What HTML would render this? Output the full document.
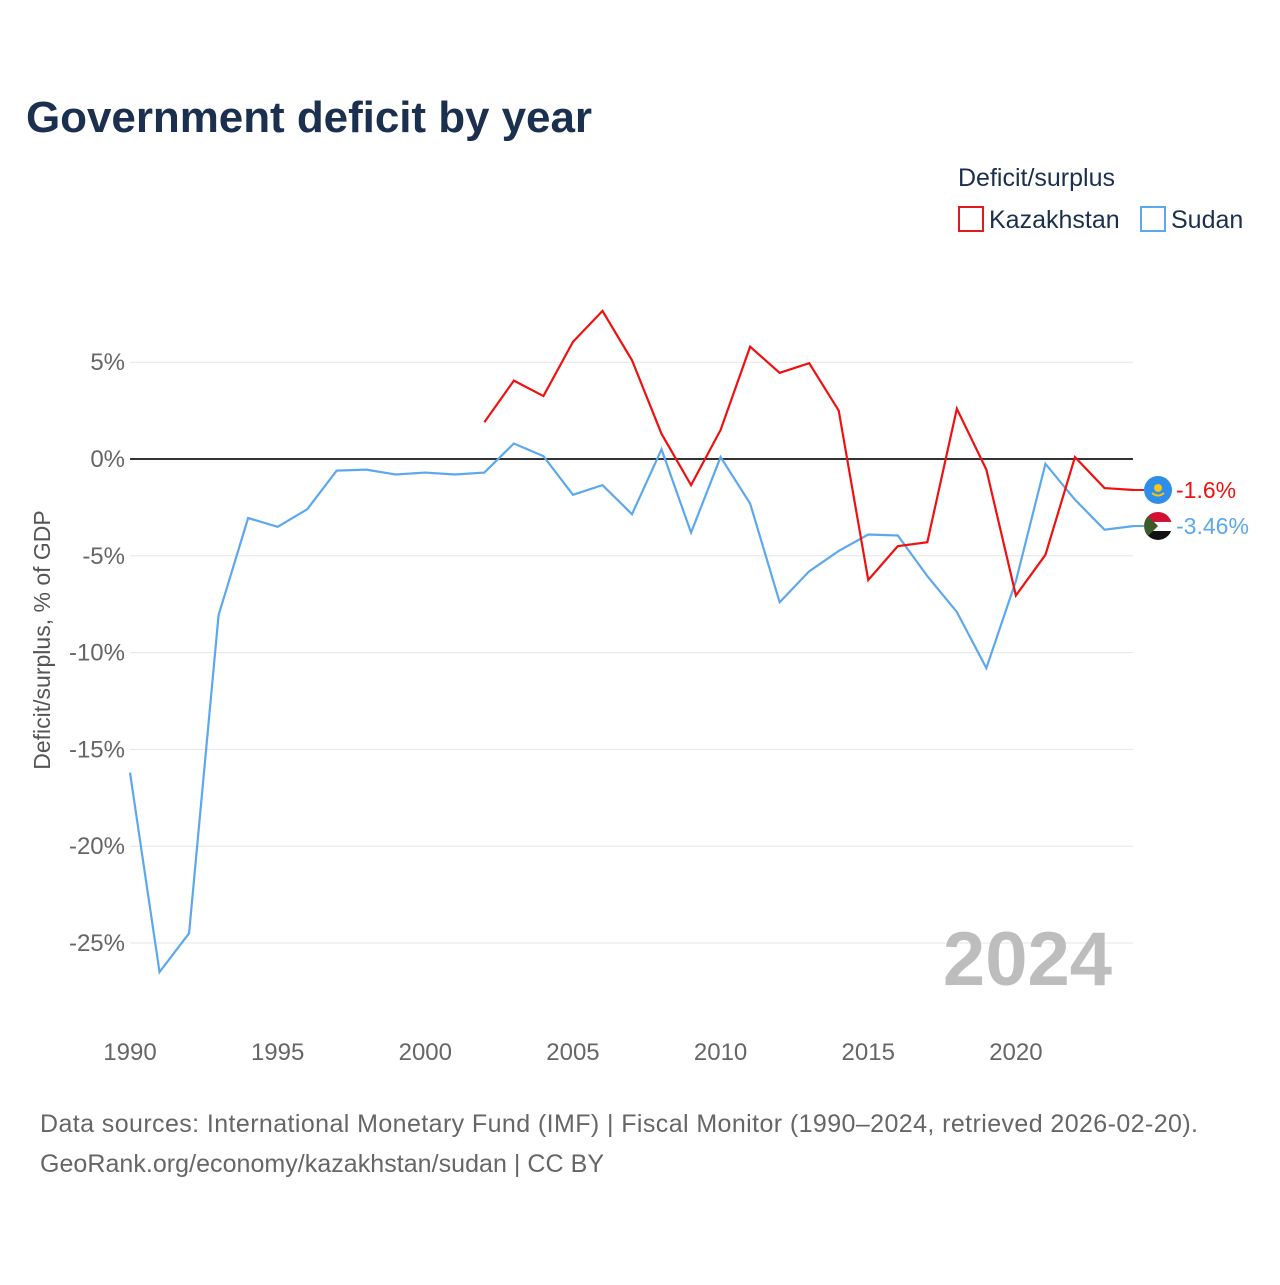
<!DOCTYPE html>
<html><head><meta charset="utf-8"><style>
body{margin:0;background:#fff;font-family:"Liberation Sans",sans-serif}
</style></head><body>
<svg width="1280" height="1280" xmlns="http://www.w3.org/2000/svg" font-family="Liberation Sans, sans-serif">
<defs>
<clipPath id="cK"><circle cx="0" cy="0" r="14"/></clipPath>
</defs>
<text x="26" y="132" font-size="44" font-weight="bold" fill="#1b2f4e" textLength="566">Government deficit by year</text>
<text x="958" y="186" font-size="25" fill="#1b2f4e">Deficit/surplus</text>
<g><rect x="959" y="207" width="24" height="24" fill="none" stroke="#e31a1c" stroke-width="2"/><text x="989" y="228" font-size="25" fill="#1b2f4e">Kazakhstan</text></g>
<g><rect x="1141" y="207" width="24" height="24" fill="none" stroke="#5ba8ef" stroke-width="2"/><text x="1171" y="228" font-size="25" fill="#1b2f4e">Sudan</text></g>
<g id="grid"></g>
<text x="1112" y="985" font-size="76" font-weight="bold" fill="#bdbdbd" text-anchor="end">2024</text>
<text transform="translate(50,640) rotate(-90)" font-size="23" fill="#555" text-anchor="middle">Deficit/surplus, % of GDP</text>
<g id="series"></g>
<text x="40" y="1132" font-size="25" fill="#666" textLength="1158">Data sources: International Monetary Fund (IMF) | Fiscal Monitor (1990–2024, retrieved 2026-02-20).</text>
<text x="40" y="1172" font-size="25" fill="#666" textLength="564">GeoRank.org/economy/kazakhstan/sudan | CC BY</text>
</svg>
<script>
const yearsSudan=[1990,1991,1992,1993,1994,1995,1996,1997,1998,1999,2000,2001,2002,2003,2004,2005,2006,2007,2008,2009,2010,2011,2012,2013,2014,2015,2016,2017,2018,2019,2020,2021,2022,2023,2024];
const sudan=[-16.2,-26.5,-24.5,-8.06,-3.05,-3.5,-2.6,-0.6,-0.55,-0.8,-0.7,-0.8,-0.7,0.8,0.15,-1.85,-1.35,-2.85,0.5,-3.8,0.1,-2.3,-7.4,-5.8,-4.75,-3.9,-3.95,-6.05,-7.9,-10.8,-6.3,-0.25,-2.1,-3.65,-3.46];
const yearsKaz=[2002,2003,2004,2005,2006,2007,2008,2009,2010,2011,2012,2013,2014,2015,2016,2017,2018,2019,2020,2021,2022,2023,2024];
const kaz=[1.9,4.05,3.25,6.05,7.65,5.1,1.3,-1.35,1.5,5.8,4.45,4.95,2.5,-6.25,-4.5,-4.3,2.6,-0.55,-7.05,-4.95,0.1,-1.5,-1.6];
const yTicks=[5,0,-5,-10,-15,-20,-25];
const xTicks=[1990,1995,2000,2005,2010,2015,2020];
const NS="http://www.w3.org/2000/svg";
const X=y=>130+(y-1990)*29.53;
const Y=v=>459-v*19.36;
function mk(t,a,p){const e=document.createElementNS(NS,t);for(const k in a)e.setAttribute(k,a[k]);p.appendChild(e);return e;}
const g=document.getElementById('grid');
yTicks.forEach(v=>{
 const l=mk('line',{x1:130,x2:1133,y1:Y(v),y2:Y(v),stroke:v===0?'#333':'#e6e6e6','stroke-width':v===0?2:1},g);
 
 
 const t=mk('text',{x:125,y:Y(v)+8,'text-anchor':'end','font-size':24,fill:'#666'},g);t.textContent=v+'%';
 
 
});
xTicks.forEach(v=>{
 const t=mk('text',{x:X(v),y:1060,'text-anchor':'middle','font-size':24,fill:'#666'},g);t.textContent=v;
 
 
});
const s=document.getElementById('series');
function line(xs,vs,c,name){
 const p=mk('polyline',{points:xs.map((y,i)=>X(y)+','+Y(vs[i])).join(' '),fill:'none',stroke:c,'stroke-width':2.2},s);
 
 
}
line(yearsSudan,sudan,'#5ba8ef','sudan-line');
line(yearsKaz,kaz,'#f01010','kazakhstan-line');
function end(xs,vs,c,name,kind){
 const v=vs[vs.length-1],cx=X(xs[xs.length-1])+24,cy=Y(v);
 mk('line',{x1:X(xs[xs.length-1]),x2:cx-14,y1:cy,y2:cy,stroke:c,'stroke-width':2},s);
 const f=mk('g',{transform:'translate('+cx+','+cy+')','clip-path':'url(#cK)'},s);
 
 
 if(kind==='kz'){
  mk('rect',{x:-14,y:-14,width:28,height:28,fill:'#2f8ee8'},f);
  mk('circle',{cx:0,cy:-2,r:4,fill:'#f5c518'},f);
  mk('path',{d:'M-6 3 Q0 8 6 3',stroke:'#f5c518','stroke-width':2,fill:'none'},f);
 }else{
  mk('rect',{x:-14,y:-14,width:28,height:10,fill:'#d21034'},f);
  mk('rect',{x:-14,y:-4,width:28,height:9,fill:'#fff'},f);
  mk('rect',{x:-14,y:5,width:28,height:10,fill:'#111'},f);
  mk('path',{d:'M-14 -14 L0 0 L-14 14 Z',fill:'#3d5a2a'},f);
 }
 const t=mk('text',{x:cx+18,y:cy+8,'font-size':23,fill:c},s);t.textContent=v+'%';
 
 
}
end(yearsKaz,kaz,'#f01010','kazakhstan','kz');
end(yearsSudan,sudan,'#5ba8ef','sudan','sd');
</script>
</body></html>
